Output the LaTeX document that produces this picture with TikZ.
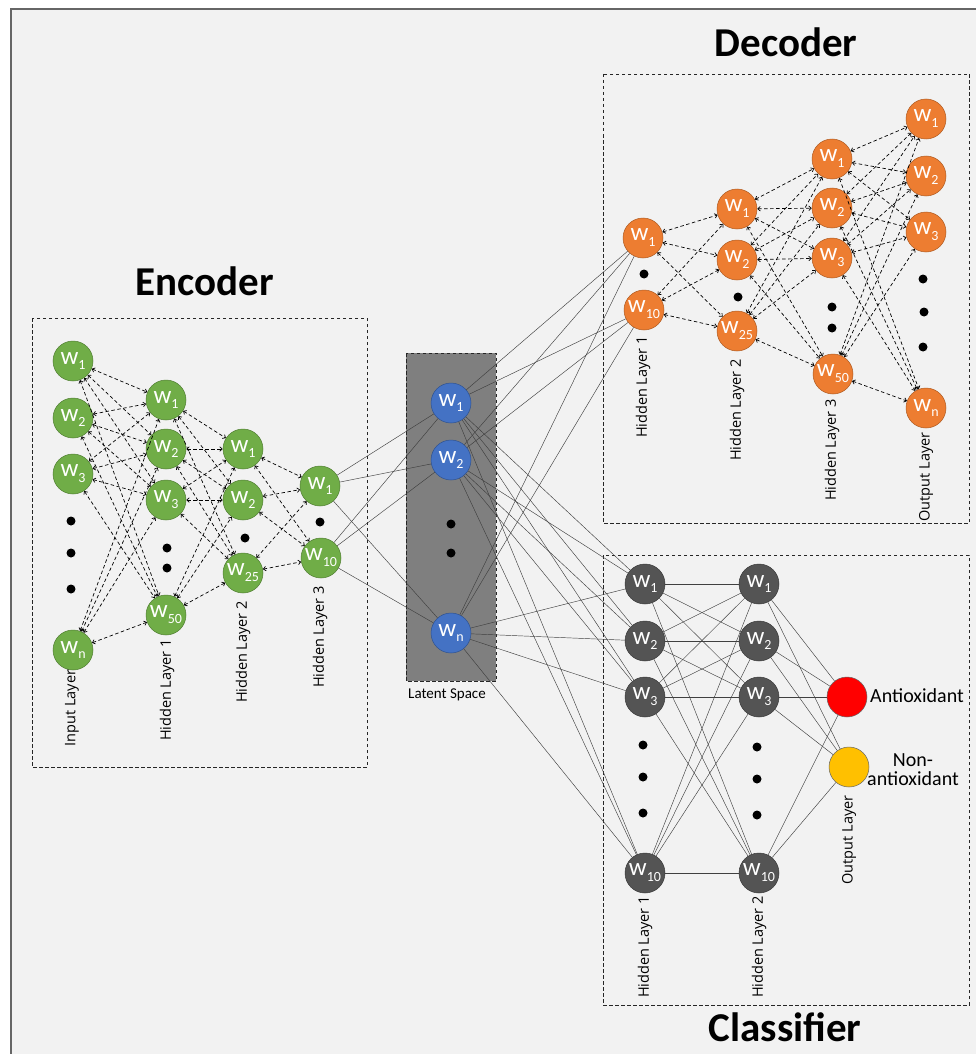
\documentclass[tikz,border=0pt]{standalone}
\usepackage{fontspec}
\setmainfont{Carlito}
\newfontfamily\lblfont{Open Sans}
\usetikzlibrary{arrows.meta}
\definecolor{bgc}{HTML}{F2F2F2}
\definecolor{grn}{HTML}{70AD47}
\definecolor{grnb}{HTML}{507E32}
\definecolor{org}{HTML}{ED7D31}
\definecolor{orgb}{HTML}{AE5A21}
\definecolor{blu}{HTML}{4472C4}
\definecolor{blub}{HTML}{2F528F}
\definecolor{dgr}{HTML}{545454}
\definecolor{dgrb}{HTML}{3A3A3A}
\definecolor{lat}{HTML}{7F7F7F}
\definecolor{redc}{HTML}{FF0000}
\definecolor{yelc}{HTML}{FFC000}
\newcommand\wl[1]{w\raisebox{-.5ex}{\fontsize{14}{14}\selectfont #1}}
\tikzset{
  neuron/.style={circle, minimum size=40pt, inner sep=0pt, line width=0.5pt, text=white, font=\fontsize{25}{25}\selectfont},
  gn/.style={neuron, fill=grn, draw=grnb},
  on/.style={neuron, fill=org, draw=orgb},
  bn/.style={neuron, fill=blu, draw=blub},
  kn/.style={neuron, fill=dgr, draw=dgrb},
  dotn/.style={circle, fill=black, minimum size=9pt, inner sep=0pt},
  dcon/.style={dash pattern=on 3.5pt off 2.5pt, line width=0.7pt, {Straight Barb[length=2.5pt,width=4.5pt]}-{Straight Barb[length=2.5pt,width=4.5pt]}},
  scon/.style={draw=black!75, line width=0.45pt},
  frame/.style={dash pattern=on 3.5pt off 2.5pt, line width=0.7pt, draw=black!85},
  layerlbl/.style={rotate=90, font=\lblfont\fontsize{14.5}{14.5}\selectfont, inner sep=0pt},
  title/.style={font=\fontsize{41}{41}\selectfont\bfseries, inner sep=0pt}
}
\begin{document}
\begin{tikzpicture}[x=1pt,y=-1pt]
\useasboundingbox (0,0) rectangle (976,1054);
\fill[white] (0,0) rectangle (976,1054);
\fill[bgc] (11,9) rectangle (976,1054);
\draw[black!60, line width=1.2pt] (11,1054) -- (11,9) -- (976,9);

% frames
\draw[frame] (32,318) rectangle (367,767);
\draw[frame, fill=lat] (406,353) rectangle (496,681);
\draw[frame] (603,74) rectangle (969,523);
\draw[frame] (603,555) rectangle (969,1005);

% titles
\node[title] (tenc) at (205,281) {Encoder};
\node[title] (tdec) at (786,42) {Decoder};
\node[title, anchor=base] (tcls) at (785,1041) {Classifier};

% ---------- Encoder ----------
\node[gn] (i1) at (73,361) {\wl{1}};
\node[gn] (i2) at (73,418) {\wl{2}};
\node[gn] (i3) at (73,474) {\wl{3}};
\node[gn] (in) at (73,650) {\wl{n}};
\node[dotn] (id1) at (71,521) {};
\node[dotn] (id2) at (71,553) {};
\node[dotn] (id3) at (71,589) {};

\node[gn] (a1) at (166,400) {\wl{1}};
\node[gn] (a2) at (166,449) {\wl{2}};
\node[gn] (a3) at (166,500) {\wl{3}};
\node[gn] (a50) at (166,615) {\wl{50}};
\node[dotn] (ad1) at (167,548) {};
\node[dotn] (ad2) at (167,568) {};

\node[gn] (b1) at (243,449) {\wl{1}};
\node[gn] (b2) at (243,500) {\wl{2}};
\node[gn] (b25) at (243,573) {\wl{25}};
\node[dotn] (bd1) at (245,538) {};

\node[gn] (c1) at (320,486) {\wl{1}};
\node[gn] (c10) at (321,558) {\wl{10}};
\node[dotn] (cd1) at (320,522) {};

\foreach \s in {i1,i2,i3,in} \foreach \t in {a1,a2,a3,a50} \draw[dcon] (\s) -- (\t);
\foreach \s in {a1,a2,a3,a50} \foreach \t in {b1,b2,b25} \draw[dcon] (\s) -- (\t);
\foreach \s in {b1,b2,b25} \foreach \t in {c1,c10} \draw[dcon] (\s) -- (\t);

\node[layerlbl] (li) at (72,708) {Input Layer};
\node[layerlbl] (la) at (167,690) {Hidden Layer 1};
\node[layerlbl] (lb) at (243,652) {Hidden Layer 2};
\node[layerlbl] (lc) at (320,637) {Hidden Layer 3};

% ---------- Latent ----------
\node[bn] (l1) at (451,403) {\wl{1}};
\node[bn] (l2) at (451,460) {\wl{2}};
\node[bn] (ln) at (451,633) {\wl{n}};
\node[dotn] (ld1) at (451,524) {};
\node[dotn] (ld2) at (451,553) {};
\node[font=\fontsize{15}{15}\selectfont, inner sep=0pt] (llbl) at (447,695) {Latent Space};

\foreach \s in {c1,c10} \foreach \t in {l1,l2,ln} \draw[scon] (\s) -- (\t);

% ---------- Decoder ----------
\node[on] (d1) at (643,238) {\wl{1}};
\node[on] (d10) at (644,310) {\wl{10}};
\node[dotn] (dd1) at (644,274) {};

\node[on] (e1) at (737,209) {\wl{1}};
\node[on] (e2) at (737,260) {\wl{2}};
\node[on] (e25) at (737,331) {\wl{25}};
\node[dotn] (ed1) at (738,297) {};

\node[on] (f1) at (832,159) {\wl{1}};
\node[on] (f2) at (832,208) {\wl{2}};
\node[on] (f3) at (832,258) {\wl{3}};
\node[on] (f50) at (833,374) {\wl{50}};
\node[dotn] (fd1) at (832,307) {};
\node[dotn] (fd2) at (832,328) {};

\node[on] (o1) at (926,119) {\wl{1}};
\node[on] (o2) at (926,176) {\wl{2}};
\node[on] (o3) at (926,232) {\wl{3}};
\node[on] (on) at (926,408) {\wl{n}};
\node[dotn] (od1) at (923,279) {};
\node[dotn] (od2) at (924,312) {};
\node[dotn] (od3) at (923,347) {};

\foreach \s in {d1,d10} \foreach \t in {e1,e2,e25} \draw[dcon] (\s) -- (\t);
\foreach \s in {e1,e2,e25} \foreach \t in {f1,f2,f3,f50} \draw[dcon] (\s) -- (\t);
\foreach \s in {f1,f2,f3,f50} \foreach \t in {o1,o2,o3,on} \draw[dcon] (\s) -- (\t);

\foreach \s in {l1,l2,ln} \foreach \t in {d1,d10} \draw[scon] (\s) -- (\t);

\node[layerlbl] (ld) at (643,387) {Hidden Layer 1};
\node[layerlbl] (le) at (737,410) {Hidden Layer 2};
\node[layerlbl] (lf) at (832,450) {Hidden Layer 3};
\node[layerlbl] (lo) at (926,477) {Output Layer};

% ---------- Classifier ----------
\node[kn] (g1) at (645,584) {\wl{1}};
\node[kn] (g2) at (645,641) {\wl{2}};
\node[kn] (g3) at (645,697) {\wl{3}};
\node[kn] (g10) at (645,873) {\wl{10}};
\node[dotn] (gd1) at (643,745) {};
\node[dotn] (gd2) at (643,777) {};
\node[dotn] (gd3) at (643,813) {};

\node[kn] (h1) at (759,584) {\wl{1}};
\node[kn] (h2) at (759,641) {\wl{2}};
\node[kn] (h3) at (759,697) {\wl{3}};
\node[kn] (h10) at (759,873) {\wl{10}};
\node[dotn] (hd1) at (757,747) {};
\node[dotn] (hd2) at (757,779) {};
\node[dotn] (hd3) at (757,815) {};

\node[circle, minimum size=40pt, inner sep=0pt, fill=redc, draw=black!60, line width=0.5pt] (red) at (847,697) {};
\node[circle, minimum size=40pt, inner sep=0pt, fill=yelc, draw=black!60, line width=0.5pt] (yel) at (849,767) {};
\node[font=\fontsize{20}{20}\selectfont, inner sep=0pt] (anti) at (917,696) {Antioxidant};
\node[font=\fontsize{20}{20}\selectfont, inner sep=0pt, align=center] (nonanti) at (913,770) {Non-\\[-1pt]antioxidant};

\foreach \s in {l1,l2,ln} \foreach \t in {g1,g2,g3,g10} \draw[scon] (\s) -- (\t);
\foreach \s in {g1,g2,g3,g10} \foreach \t in {h1,h2,h3,h10} \draw[scon] (\s) -- (\t);
\foreach \s in {h1,h2,h3,h10} \foreach \t in {red,yel} \draw[scon] (\s) -- (\t);

\node[layerlbl] (lg) at (645,947) {Hidden Layer 1};
\node[layerlbl] (lh) at (759,947) {Hidden Layer 2};
\node[layerlbl] (lr) at (849,840) {Output Layer};
\end{tikzpicture}
\end{document}
